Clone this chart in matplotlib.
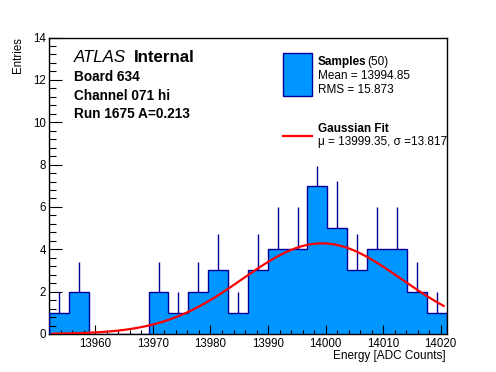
"""Recreate the ATLAS internal energy histogram with a Gaussian fit."""

import matplotlib

matplotlib.use("Agg")
import matplotlib.pyplot as plt
import numpy as np

plt.rcParams["font.family"] = ["Liberation Sans", "DejaVu Sans"]

# histogram: 20 bins between the edges below
bin_lo = 13952.0
bin_hi = 14021.0
counts = [1, 2, 0, 0, 0, 2, 1, 2, 3, 1, 3, 4, 4, 7, 5, 3, 4, 4, 2, 1]
# upper error bar lengths as drawn (mostly sqrt(N), one bin shorter)
errors = [1.0, 1.41, 0, 0, 0, 1.41, 1.0, 1.41, 1.73, 1.0, 1.73, 2.0, 2.0, 0.91, 2.24,
          1.73, 2.0, 2.0, 1.41, 1.0]

# fit parameters (from legend) and fitted peak height
fit_mu = 13999.35
fit_sigma = 13.817
fit_amp = 4.28

n_samples = 50
mean_txt = "13994.85"
rms_txt = "15.873"

FILL = "#0096ff"
EDGE = "#000099"

counts = np.array(counts, dtype=float)
errors = np.array(errors)
edges = np.linspace(bin_lo, bin_hi, len(counts) + 1)
centers = 0.5 * (edges[:-1] + edges[1:])

fig = plt.figure(figsize=(4.96, 3.72), dpi=100)
ax = fig.add_axes([49.3 / 496, 1 - 334 / 372, (446.5 - 49.3) / 496, (334 - 37.5) / 372])

ax.stairs(counts, edges, fill=True, facecolor=FILL, edgecolor="none", zorder=1)
nz = counts > 0
ax.vlines(centers[nz], counts[nz], counts[nz] + errors[nz], color=EDGE, lw=1.0, zorder=2)
ax.stairs(counts, edges, fill=False, edgecolor=EDGE, lw=1.0, baseline=0, zorder=3)

xf = np.linspace(bin_lo + 0.5, bin_hi - 0.5, 300)
yf = fit_amp * np.exp(-0.5 * ((xf - fit_mu) / fit_sigma) ** 2)
ax.plot(xf, yf, color="red", lw=1.6, zorder=4)

ax.set_xlim(bin_lo, bin_hi)
ax.set_ylim(0, 14)
ax.set_xticks(np.arange(13960, 14021, 10))
ax.set_xticks(np.arange(13954, 14021, 2), minor=True)
ax.set_yticks(np.arange(0, 15, 2))
ax.set_yticks(np.arange(0, 14.01, 0.4), minor=True)
ax.tick_params(axis="x", which="major", direction="in", length=6.5, width=0.8, labelsize=8.3, pad=3)
ax.tick_params(axis="x", which="minor", direction="in", length=3, width=0.8)
ax.tick_params(axis="y", which="major", direction="in", length=9.4, width=0.8, labelsize=8.3, pad=2.5)
ax.tick_params(axis="y", which="minor", direction="in", length=4.8, width=0.8)
for s in ax.spines.values():
    s.set_linewidth(1.0)

fig.text(18 / 496, 1 - 37 / 372, "Entries", rotation=90, ha="center", va="top", fontsize=8.3)
fig.text(446 / 496, 1 - 356 / 372, "Energy [ADC Counts]", ha="right", va="center", fontsize=8.5)

# labels in the upper left
fig.text(74 / 496, 1 - 58 / 372, "ATLAS", style="italic", fontsize=12.2, va="center")
fig.text(134 / 496, 1 - 58 / 372, "Internal", weight="bold", fontsize=12.2, va="center")
fig.text(74 / 496, 1 - 76.7 / 372, "Board 634", weight="bold", fontsize=9.8, va="center")
fig.text(74 / 496, 1 - 95.7 / 372, "Channel 071 hi", weight="bold", fontsize=9.8, va="center")
fig.text(74 / 496, 1 - 114 / 372, "Run 1675 A=0.213", weight="bold", fontsize=9.8, va="center")

# legend drawn by hand
fig.patches.append(plt.Rectangle((283.3 / 496, 1 - 96 / 372), 28.4 / 496, 42.7 / 372,
                                 transform=fig.transFigure, facecolor=FILL, edgecolor=EDGE, lw=1.0))
fig.text(317.7 / 496, 1 - 61.7 / 372, "Samples", weight="bold", fontsize=8.5, va="center")
fig.text(367 / 496, 1 - 61.7 / 372, f"({n_samples})", fontsize=8.5, va="center")
fig.text(317.7 / 496, 1 - 76 / 372, f"Mean = {mean_txt}", fontsize=8.5, va="center")
fig.text(317.7 / 496, 1 - 90 / 372, f"RMS = {rms_txt}", fontsize=8.5, va="center")
fig.lines.append(plt.Line2D([283.3 / 496, 311.7 / 496], [1 - 136 / 372, 1 - 136 / 372],
                            transform=fig.transFigure, color="red", lw=1.6))
fig.text(317.7 / 496, 1 - 129.3 / 372, "Gaussian Fit", weight="bold", fontsize=8.5, va="center")
fig.text(317.7 / 496, 1 - 141.7 / 372, f"\u03bc = {fit_mu:.2f}, \u03c3 ={fit_sigma:.3f}",
         fontsize=8.5, va="center")

fig.savefig("out.png", dpi=100)
